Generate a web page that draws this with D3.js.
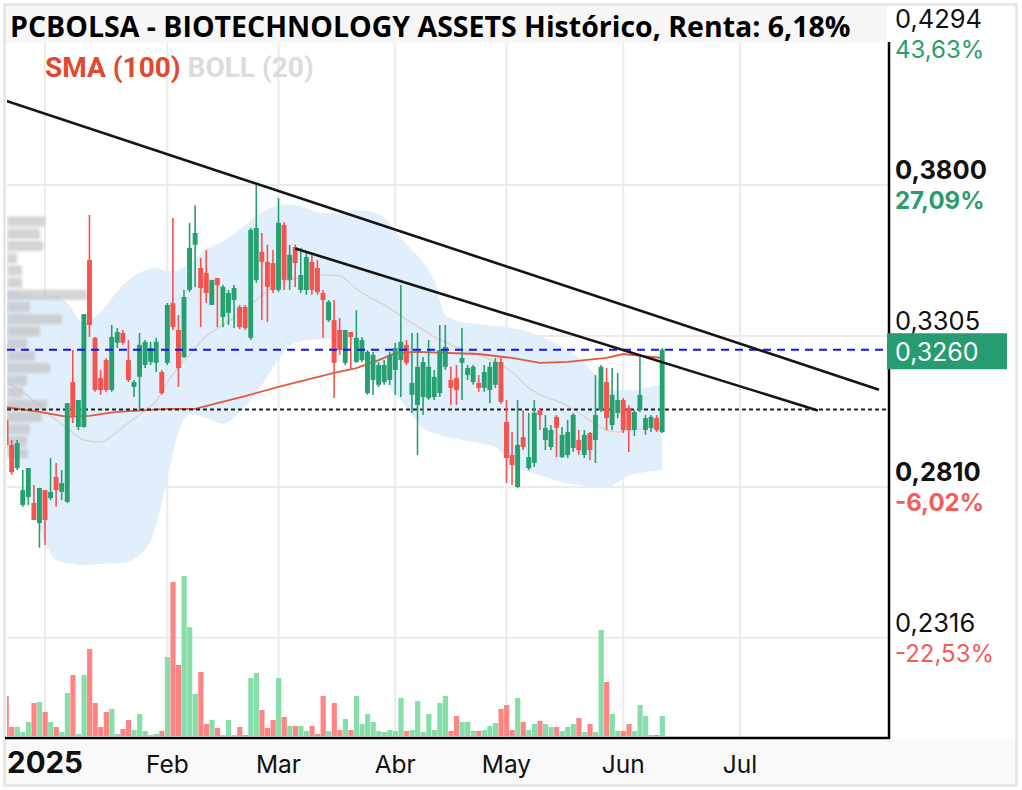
<!DOCTYPE html>
<html><head><meta charset="utf-8">
<script src="https://cdn.jsdelivr.net/npm/d3@7"></script>
<style>body{margin:0;background:#fff}svg{display:block}</style>
</head><body><svg id="c" width="1022" height="790"></svg>
<script>
// ---------------- DATA ----------------
const dates = [
"2024-12-19","2024-12-20","2024-12-23","2024-12-24","2024-12-27","2024-12-30","2024-12-31",
"2025-01-02","2025-01-03","2025-01-06","2025-01-07","2025-01-08","2025-01-09","2025-01-10","2025-01-13","2025-01-14","2025-01-15","2025-01-16","2025-01-17","2025-01-20","2025-01-21","2025-01-22","2025-01-23","2025-01-24","2025-01-27","2025-01-28","2025-01-29","2025-01-30","2025-01-31",
"2025-02-03","2025-02-04","2025-02-05","2025-02-06","2025-02-07","2025-02-10","2025-02-11","2025-02-12","2025-02-13","2025-02-14","2025-02-17","2025-02-18","2025-02-19","2025-02-20","2025-02-21","2025-02-24","2025-02-25","2025-02-26","2025-02-27","2025-02-28",
"2025-03-03","2025-03-04","2025-03-05","2025-03-06","2025-03-07","2025-03-10","2025-03-11","2025-03-12","2025-03-13","2025-03-14","2025-03-17","2025-03-18","2025-03-19","2025-03-20","2025-03-21","2025-03-24","2025-03-25","2025-03-26","2025-03-27","2025-03-28","2025-03-31",
"2025-04-01","2025-04-02","2025-04-03","2025-04-04","2025-04-07","2025-04-08","2025-04-09","2025-04-10","2025-04-11","2025-04-14","2025-04-15","2025-04-16","2025-04-17","2025-04-22","2025-04-23","2025-04-24","2025-04-25","2025-04-28","2025-04-29","2025-04-30",
"2025-05-02","2025-05-05","2025-05-06","2025-05-07","2025-05-08","2025-05-09","2025-05-12","2025-05-13","2025-05-14","2025-05-15","2025-05-16","2025-05-19","2025-05-20","2025-05-21","2025-05-22","2025-05-23","2025-05-26","2025-05-27","2025-05-28","2025-05-29","2025-05-30",
"2025-06-02","2025-06-03","2025-06-04","2025-06-05","2025-06-06","2025-06-09","2025-06-10","2025-06-11"];
const futureDates = [
"2025-06-12","2025-06-13","2025-06-16","2025-06-17","2025-06-18","2025-06-19","2025-06-20","2025-06-23","2025-06-24","2025-06-25","2025-06-26","2025-06-27","2025-06-30",
"2025-07-01","2025-07-02","2025-07-03","2025-07-04","2025-07-07","2025-07-08","2025-07-09","2025-07-10","2025-07-11","2025-07-14","2025-07-15","2025-07-16","2025-07-17","2025-07-18","2025-07-21","2025-07-22","2025-07-23","2025-07-24","2025-07-25","2025-07-28","2025-07-29","2025-07-30","2025-07-31",
"2025-08-01","2025-08-04","2025-08-05","2025-08-06","2025-08-07","2025-08-08"];

const opens = [0.3030,0.2948,0.2872,0.2751,0.2777,0.2758,0.2692,
0.2800,0.2774,0.2843,0.2794,0.2761,0.3154,0.3007,0.3007,0.3554,0.3299,0.3167,0.3226,0.3128,0.3283,0.3315,0.3226,0.3138,0.3171,0.3210,0.3220,0.3217,0.3187,
0.3217,0.3413,0.3325,0.3236,0.3456,0.3604,0.3528,0.3512,0.3407,0.3495,0.3367,0.3381,0.3423,0.3400,0.3400,0.3299,0.3489,0.3581,0.3548,0.3544,
0.3456,0.3669,0.3489,0.3597,0.3456,0.3456,0.3548,0.3528,0.3446,0.3357,0.3357,0.3325,0.3217,0.3318,0.3220,0.3226,0.3118,0.3161,0.3145,0.3154,0.3161,
0.3194,0.3226,0.3276,0.3112,0.3079,0.3105,0.3102,0.3105,0.3118,0.3204,0.3161,0.3167,0.3217,0.3177,0.3154,0.3151,0.3135,0.3128,0.3145,0.3220,
0.3023,0.2915,0.2810,0.2974,0.2872,0.2889,0.3062,0.2964,0.2941,0.3040,0.2908,0.2915,0.2938,0.2964,0.2915,0.2987,0.2964,0.3062,0.3154,0.3013,0.3053,
0.3095,0.3069,0.2997,0.3062,0.2997,0.3004,0.3036,0.2990];
const highs = [0.3200,0.2964,0.2964,0.2866,0.2872,0.2817,0.2807,
0.2800,0.2905,0.2889,0.2866,0.3085,0.3259,0.3095,0.3377,0.3702,0.3302,0.3194,0.3233,0.3341,0.3331,0.3325,0.3292,0.3161,0.3315,0.3292,0.3286,0.3299,0.3194,
0.3413,0.3692,0.3374,0.3456,0.3676,0.3734,0.3561,0.3587,0.3489,0.3495,0.3472,0.3456,0.3472,0.3407,0.3407,0.3659,0.3800,0.3643,0.3604,0.3587,
0.3757,0.3679,0.3604,0.3604,0.3594,0.3581,0.3571,0.3554,0.3456,0.3423,0.3423,0.3364,0.3325,0.3318,0.3390,0.3302,0.3259,0.3253,0.3220,0.3226,0.3253,
0.3283,0.3472,0.3292,0.3315,0.3315,0.3236,0.3292,0.3194,0.3341,0.3341,0.3204,0.3210,0.3331,0.3210,0.3210,0.3177,0.3210,0.3220,0.3233,0.3233,
0.3095,0.2990,0.3095,0.3062,0.3053,0.3095,0.3069,0.3046,0.3013,0.3046,0.3007,0.3030,0.3053,0.2997,0.2997,0.2990,0.3177,0.3210,0.3200,0.3200,0.3184,
0.3102,0.3079,0.3062,0.3236,0.3046,0.3046,0.3046,0.3266];
const lows = [0.2931,0.2850,0.2866,0.2745,0.2751,0.2702,0.2611,
0.2620,0.2767,0.2745,0.2767,0.2758,0.3020,0.2997,0.3004,0.3302,0.3122,0.3112,0.3122,0.3122,0.3266,0.3276,0.3154,0.3105,0.3062,0.3200,0.3210,0.3187,0.3112,
0.3210,0.3325,0.3138,0.3233,0.3449,0.3466,0.3334,0.3413,0.3407,0.3334,0.3334,0.3341,0.3331,0.3328,0.3325,0.3292,0.3479,0.3357,0.3351,0.3446,
0.3449,0.3456,0.3456,0.3466,0.3446,0.3440,0.3440,0.3440,0.3299,0.3351,0.3102,0.3243,0.3210,0.3194,0.3217,0.3220,0.3112,0.3112,0.3138,0.3145,0.3145,
0.3112,0.3105,0.3210,0.3053,0.2915,0.3046,0.3095,0.3095,0.3105,0.3194,0.3079,0.3079,0.3095,0.3161,0.3145,0.3122,0.3122,0.3085,0.3135,0.3082,
0.2823,0.2817,0.2807,0.2931,0.2866,0.2876,0.2997,0.2931,0.2931,0.2908,0.2905,0.2905,0.2925,0.2915,0.2905,0.2898,0.2889,0.3056,0.2997,0.2997,0.3036,
0.2987,0.2925,0.2977,0.3056,0.2981,0.2990,0.2990,0.2987];
const closes = [0.2948,0.2859,0.2954,0.2800,0.2872,0.2702,0.2807,
0.2702,0.2794,0.2800,0.2823,0.3085,0.3040,0.3095,0.3377,0.3341,0.3128,0.3128,0.3128,0.3302,0.3318,0.3283,0.3161,0.3154,0.3276,0.3286,0.3266,0.3286,0.3118,
0.3407,0.3334,0.3200,0.3433,0.3594,0.3643,0.3462,0.3446,0.3489,0.3472,0.3466,0.3446,0.3462,0.3334,0.3331,0.3653,0.3659,0.3548,0.3466,0.3456,
0.3676,0.3489,0.3571,0.3544,0.3505,0.3564,0.3456,0.3449,0.3423,0.3417,0.3217,0.3259,0.3325,0.3302,0.3299,0.3292,0.3253,0.3243,0.3210,0.3210,0.3243,
0.3266,0.3286,0.3217,0.3151,0.3204,0.3220,0.3204,0.3171,0.3259,0.3269,0.3135,0.3128,0.3233,0.3200,0.3204,0.3135,0.3187,0.3204,0.3220,0.3089,
0.2905,0.2882,0.2948,0.2941,0.2908,0.3053,0.3046,0.3004,0.2997,0.3004,0.2981,0.2990,0.3046,0.2931,0.2981,0.2931,0.3046,0.3204,0.3036,0.3112,0.3095,
0.2997,0.2997,0.3056,0.3112,0.3036,0.3040,0.2997,0.3260];
const volumes = [40,9,9,4,14,33,34,
24,14,9,4,43,61,2,61,87,33,9,24,27,2,7,16,6,22,5,1,2,5,
79,154,71,160,109,42,64,12,16,8,1,16,1,9,1,58,63,26,8,16,
58,19,10,10,10,5,10,2,40,5,33,6,17,6,40,12,22,14,5,4,6,
5,38,5,6,35,4,22,6,33,40,5,20,14,14,5,5,6,10,13,27,
31,6,38,14,6,12,15,12,9,9,5,9,12,18,4,12,4,106,54,22,5,
5,12,5,31,20,1,1,20];

// Bollinger (20)
const bbDates = ["2024-12-19","2024-12-24","2024-12-31","2025-01-06","2025-01-08","2025-01-13","2025-01-16","2025-01-22","2025-01-28","2025-01-30","2025-02-03","2025-02-05","2025-02-07","2025-02-12","2025-02-17","2025-02-20","2025-02-25","2025-02-28","2025-03-05","2025-03-10","2025-03-13","2025-03-18","2025-03-21","2025-03-26","2025-03-31","2025-04-02","2025-04-04","2025-04-08","2025-04-10","2025-04-14","2025-04-17","2025-04-24","2025-04-29","2025-05-05","2025-05-08","2025-05-13","2025-05-16","2025-05-21","2025-05-26","2025-05-28","2025-05-30","2025-06-03","2025-06-06","2025-06-11"];
const bbUpper = [0.3456,0.3443,0.3433,0.3439,0.3413,0.3348,0.3384,0.3472,0.3521,0.3528,0.3518,0.3521,0.3544,0.3590,0.3616,0.3653,0.3698,0.3728,0.3738,0.3725,0.3708,0.3708,0.3718,0.3711,0.3675,0.3626,0.3587,0.3548,0.3489,0.3374,0.3351,0.3344,0.3338,0.3331,0.3318,0.3298,0.3269,0.3233,0.3177,0.3135,0.3128,0.3128,0.3135,0.3145];
const bbMiddle = [0.3154,0.3121,0.3076,0.3030,0.3003,0.2964,0.2958,0.3007,0.3062,0.3092,0.3154,0.3203,0.3243,0.3305,0.3341,0.3380,0.3423,0.3465,0.3489,0.3498,0.3505,0.3502,0.3459,0.3426,0.3397,0.3371,0.3348,0.3325,0.3302,0.3285,0.3262,0.3243,0.3220,0.3187,0.3135,0.3105,0.3085,0.3053,0.3017,0.2997,0.2990,0.2997,0.3003,0.3007];
const bbLower = [0.2915,0.2872,0.2676,0.2571,0.2561,0.2554,0.2558,0.2561,0.2604,0.2685,0.2840,0.2990,0.3049,0.3036,0.3017,0.3056,0.3118,0.3200,0.3272,0.3292,0.3295,0.3289,0.3266,0.3210,0.3135,0.3095,0.3046,0.3003,0.2987,0.2974,0.2964,0.2954,0.2941,0.2882,0.2859,0.2843,0.2826,0.2817,0.2810,0.2810,0.2826,0.2846,0.2859,0.2866];

// SMA (100)
const smaDates = ["2024-12-19","2024-12-20","2024-12-31","2025-01-08","2025-01-14","2025-01-16","2025-01-21","2025-02-03","2025-02-10","2025-02-14","2025-02-21","2025-03-03","2025-03-10","2025-03-17","2025-03-21","2025-03-27","2025-04-01","2025-04-07","2025-04-24","2025-05-05","2025-05-12","2025-05-19","2025-05-28","2025-06-02","2025-06-11"];
const smaValues = [0.3072,0.3069,0.3056,0.3040,0.3043,0.3049,0.3056,0.3066,0.3066,0.3085,0.3108,0.3138,0.3161,0.3184,0.3200,0.3226,0.3249,0.3253,0.3246,0.3233,0.3217,0.3220,0.3233,0.3246,0.3233];

// volume-by-price profile (left edge)
const vpBinLow = [0.2900,0.2940,0.2980,0.3020,0.3060,0.3100,0.3140,0.3180,0.3220,0.3260,0.3300,0.3340,0.3380,0.3420,0.3460,0.3500,0.3540,0.3580,0.3620,0.3660];
const vpVolume = [21,20,23,35,40,16,20,43,28,20,33,55,23,80,15,15,10,36,33,38];

// trend lines
const trend1Dates = ["2024-12-19","2025-08-05"], trend1Values = [0.4076,0.3129];
const trend2Dates = ["2025-03-06","2025-07-21"], trend2Values = [0.3592,0.3061];

const lastPrice = 0.3260, lastPriceLabel = "0,3260";
const startPrice = 0.3064;

const priceTicks = [0.4294,0.3800,0.3305,0.2810,0.2316];
const priceTickLabels = ["0,4294","0,3800","0,3305","0,2810","0,2316"];
const pctTickLabels = ["43,63%","27,09%","","-6,02%","-22,53%"];
const keyLevels = [0.3800,0.2810];

const monthStarts = ["2025-01-02","2025-02-03","2025-03-03","2025-04-01","2025-05-02","2025-06-02","2025-07-01"];
const monthLabels = ["2025","Feb","Mar","Abr","May","Jun","Jul"];

const titleText = "PCBOLSA - BIOTECHNOLOGY ASSETS Histórico, Renta: 6,18%";

// ---------------- LAYOUT ----------------
const L = 7, R = 889, T = 43, B = 738;
const UP = "#26a06f", DOWN = "#f5534e";
const svg = d3.select("#c");
const allSessions = dates.concat(futureDates);
const step = 5.56;
const x = d3.scaleBand().domain(allSessions).range([3.3, 3.3 + allSessions.length * step])
  .paddingInner(0.12).paddingOuter(0.06);
const cx = d => x(d) + x.bandwidth() / 2;
const y = d3.scaleLinear().domain([0.2, 0.43]).range([734.1, 32.5]);
const yVol = d3.scaleLinear().domain([0, 160]).range([736, 576]);
const xVp = d3.scaleLinear().domain([0, 100]).range([0, 100]);

// frame
svg.append("rect").attr("x", 0).attr("y", 0).attr("width", 1022).attr("height", 790).attr("fill", "#fff");
svg.append("rect").attr("x", 5).attr("y", 5).attr("width", R - 7).attr("height", 38).attr("fill", "#f7f7f7");
svg.append("rect").attr("x", 5).attr("y", 739).attr("width", 1011).attr("height", 46).attr("fill", "#f9f9f9");
svg.append("rect").attr("x", 4.5).attr("y", 4.5).attr("width", 1012).attr("height", 781)
  .attr("fill", "none").attr("stroke", "#e4e4e4").attr("stroke-width", 2.5);

const defs = svg.append("defs");
defs.append("clipPath").attr("id", "plot").append("rect").attr("x", L).attr("y", T).attr("width", R - L).attr("height", B - T);
defs.append("filter").attr("id", "blur").append("feGaussianBlur").attr("stdDeviation", 1.8);

const g = svg.append("g").attr("clip-path", "url(#plot)");

// gridlines
g.selectAll(".hg").data(priceTicks.slice(1)).join("line")
  .attr("x1", L).attr("x2", R).attr("y1", d => y(d)).attr("y2", d => y(d))
  .attr("stroke", "#ebebeb").attr("stroke-width", 2);
g.selectAll(".vg").data(monthStarts).join("line")
  .attr("x1", d => cx(d)).attr("x2", d => cx(d)).attr("y1", T).attr("y2", B)
  .attr("stroke", "#ebebeb").attr("stroke-width", 2);

// bollinger
const bb = bbDates.map((d, i) => ({d, u: bbUpper[i], m: bbMiddle[i], l: bbLower[i]}));
g.append("path").datum(bb).attr("fill", "#e1effc")
  .attr("d", d3.area().x(d => cx(d.d)).y0(d => y(d.l)).y1(d => y(d.u)).curve(d3.curveMonotoneX));
g.append("path").datum(bb).attr("fill", "none").attr("stroke", "#dcd2cc").attr("stroke-width", 1.3)
  .attr("d", d3.line().x(d => cx(d.d)).y(d => y(d.m)).curve(d3.curveMonotoneX));

// volume profile
g.append("g").attr("filter", "url(#blur)").selectAll("rect").data(vpBinLow).join("rect")
  .attr("x", L).attr("y", d => y(d + 0.004) + 1).attr("height", d => y(d) - y(d + 0.004) - 2)
  .attr("width", (d, i) => xVp(vpVolume[i])).attr("fill", "#c2c2c2").attr("opacity", 0.7);

// volume bars
g.selectAll(".vol").data(dates).join("rect")
  .attr("x", d => x(d)).attr("width", x.bandwidth() + 0.3)
  .attr("y", (d, i) => yVol(volumes[i])).attr("height", (d, i) => yVol(0) - yVol(volumes[i]))
  .attr("fill", (d, i) => closes[i] >= opens[i] ? "#86dfa9" : "#ff8585");

// SMA
g.append("path").datum(smaDates.map((d, i) => [d, smaValues[i]])).attr("fill", "none")
  .attr("stroke", "#e25a3c").attr("stroke-width", 1.8)
  .attr("d", d3.line().x(d => cx(d[0])).y(d => y(d[1])));

// reference line (start price)
g.append("line").attr("x1", L).attr("x2", R).attr("y1", y(startPrice)).attr("y2", y(startPrice))
  .attr("stroke", "#222").attr("stroke-width", 2).attr("stroke-dasharray", "4,3");

// candles
const cg = g.append("g");
cg.selectAll(".wick").data(dates).join("line")
  .attr("x1", d => cx(d)).attr("x2", d => cx(d))
  .attr("y1", (d, i) => y(highs[i])).attr("y2", (d, i) => y(lows[i]))
  .attr("stroke", (d, i) => closes[i] >= opens[i] ? UP : DOWN).attr("stroke-width", 1.6);
cg.selectAll(".body").data(dates).join("rect")
  .attr("x", d => x(d)).attr("width", x.bandwidth())
  .attr("y", (d, i) => y(Math.max(opens[i], closes[i])))
  .attr("height", (d, i) => Math.max(1.5, Math.abs(y(opens[i]) - y(closes[i]))))
  .attr("fill", (d, i) => closes[i] >= opens[i] ? UP : DOWN);

g.append("line").attr("x1", L).attr("x2", R).attr("y1", y(lastPrice)).attr("y2", y(lastPrice))
  .attr("stroke", "#1414f0").attr("stroke-width", 2).attr("stroke-dasharray", "8,6");

// trend lines
[[trend1Dates, trend1Values], [trend2Dates, trend2Values]].forEach(([ds, vs]) => {
  g.append("path").datum(ds.map((d, i) => [d, vs[i]])).attr("fill", "none")
    .attr("stroke", "#151515").attr("stroke-width", 2.6)
    .attr("d", d3.line().x(d => cx(d[0])).y(d => y(d[1])));
});

// axes lines
svg.append("line").attr("x1", R).attr("x2", R).attr("y1", 42).attr("y2", B + 1)
  .attr("stroke", "#000").attr("stroke-width", 2.5);
svg.append("line").attr("x1", 5).attr("x2", R).attr("y1", B).attr("y2", B)
  .attr("stroke", "#000").attr("stroke-width", 2.5);

// right axis
const FONT = "Inter, Roboto, sans-serif";
const yAxis = d3.axisRight(y).tickValues(priceTicks).tickSize(0).tickPadding(6)
  .tickFormat((d, i) => priceTickLabels[i]);
const ya = svg.append("g").attr("transform", `translate(${R},0)`).call(yAxis);
ya.select(".domain").remove();
ya.selectAll(".tick text").attr("dy", null).attr("y", -6.5)
  .attr("font-family", FONT).attr("font-size", 25.5)
  .attr("font-weight", d => keyLevels.includes(d) ? 700 : 400).attr("fill", "#111");
ya.selectAll(".tick").append("text").attr("x", 6).attr("y", 23.5)
  .attr("font-family", FONT).attr("font-size", 24)
  .attr("font-weight", d => keyLevels.includes(d) ? 700 : 400)
  .attr("fill", d => d >= 0.299 ? "#2a9d6f" : "#f45b5b")
  .text((d, i) => pctTickLabels[i]);

// last price tag
svg.append("rect").attr("x", 887).attr("y", y(lastPrice) - 16.5).attr("width", 120).attr("height", 36).attr("fill", "#279c70");
svg.append("text").attr("x", 895).attr("y", y(lastPrice) + 11.5).attr("fill", "#fff")
  .attr("font-family", FONT).attr("font-size", 25).text(lastPriceLabel);

// bottom axis
const xAxis = d3.axisBottom(x).tickValues(monthStarts).tickSize(0)
  .tickFormat(d => monthLabels[monthStarts.indexOf(d)]);
const xa = svg.append("g").attr("transform", `translate(0,${B})`).call(xAxis);
xa.select(".domain").remove();
xa.selectAll(".tick text").attr("dy", null).attr("y", 35)
  .attr("font-family", FONT)
  .attr("font-size", (d, i) => i === 0 ? 29.5 : 24.5)
  .attr("font-weight", (d, i) => i === 0 ? 700 : 400).attr("fill", "#111");

// title & legend
svg.append("text").attr("x", 10).attr("y", 37).attr("font-family", "'Open Sans', sans-serif")
  .attr("font-weight", 700).attr("font-size", 28.5).attr("fill", "#000").text(titleText);
const lg = svg.append("text").attr("x", 45).attr("y", 77).attr("font-family", "Roboto, sans-serif")
  .attr("font-weight", 700).attr("font-size", 28);
lg.append("tspan").attr("fill", "#e2492c").text("SMA (100) ");
lg.append("tspan").attr("fill", "#dcdcdc").text("BOLL (20)");
</script></body></html>
